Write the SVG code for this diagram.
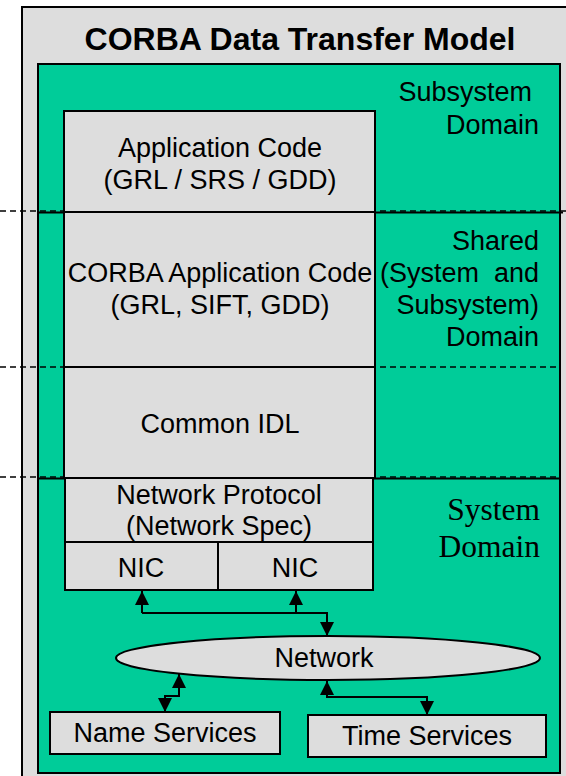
<svg xmlns="http://www.w3.org/2000/svg" width="566" height="776" viewBox="0 0 566 776">
<style>
.box{fill:#DDDDDD;stroke:#000;stroke-width:2}
.t{font-family:"Liberation Sans",Arial,sans-serif;font-size:27px;fill:#000}
.c{text-anchor:middle}
.r{text-anchor:end}
.serif{font-family:"Liberation Serif","Times New Roman",serif;font-size:31.5px;fill:#000;text-anchor:end}
.dash{stroke:#000;stroke-width:1.6;stroke-dasharray:6,4;fill:none}
.solid{stroke:#000;stroke-width:2;fill:none}
.conn{stroke:#000;stroke-width:2;fill:none}
</style>
<defs>
<marker id="ah" viewBox="0 0 14 14" refX="14" refY="7" markerWidth="14" markerHeight="14" markerUnits="userSpaceOnUse" orient="auto-start-reverse">
<path d="M0,0 L14,7 L0,14 z" fill="#000"/>
</marker>
</defs>
<g id="frame">
<rect x="22" y="7" width="560" height="780" fill="#DDDDDD" stroke="#000" stroke-width="2"/>
<text x="300" y="50" class="c" style="font-family:'Liberation Sans',Arial,sans-serif;font-size:32px;font-weight:bold">CORBA Data Transfer Model</text>
</g>
<g id="green">
<rect x="38" y="64" width="522" height="709" fill="#00CC99" stroke="#000" stroke-width="2"/>
<line class="solid" x1="38" y1="212.5" x2="563" y2="212.5"/>
<line class="solid" x1="38" y1="478.5" x2="560" y2="478.5"/>
</g>
<g id="dividers">
<line class="dash" x1="0" y1="211" x2="566" y2="211"/>
<line class="dash" x1="0" y1="367" x2="560" y2="367"/>
<line class="dash" x1="0" y1="477" x2="560" y2="477"/>
</g>
<g id="app-code">
<rect class="box" x="64" y="111" width="311" height="101"/>
<text class="t c" x="220" y="157">Application Code</text>
<text class="t c" x="220" y="189">(GRL / SRS / GDD)</text>
</g>
<g id="corba-app-code">
<rect class="box" x="64" y="212" width="311" height="155"/>
<text class="t c" x="220" y="282">CORBA Application Code</text>
<text class="t c" x="220" y="314">(GRL, SIFT, GDD)</text>
</g>
<g id="common-idl">
<rect class="box" x="64" y="367" width="311" height="111"/>
<text class="t c" x="220" y="433">Common IDL</text>
</g>
<g id="net-protocol">
<rect class="box" x="65" y="478" width="308" height="64"/>
<text class="t c" x="219" y="504">Network Protocol</text>
<text class="t c" x="219" y="535">(Network Spec)</text>
</g>
<g id="nic1">
<rect class="box" x="65" y="542" width="153" height="48"/>
<text class="t c" x="141" y="577">NIC</text>
</g>
<g id="nic2">
<rect class="box" x="218" y="542" width="155" height="48"/>
<text class="t c" x="295" y="577">NIC</text>
</g>
<g id="label-subsystem">
<text class="t r" x="532" y="101">Subsystem</text>
<text class="t r" x="539" y="134">Domain</text>
</g>
<g id="label-shared">
<text class="t r" x="539" y="250">Shared</text>
<text class="t r" x="539" y="282" xml:space="preserve">(System  and</text>
<text class="t r" x="539" y="314">Subsystem)</text>
<text class="t r" x="539" y="346">Domain</text>
</g>
<g id="label-system">
<text class="serif" x="540" y="520">System</text>
<text class="serif" x="540" y="557">Domain</text>
</g>
<g id="network">
<ellipse cx="328" cy="658" rx="212" ry="22" fill="#DDDDDD" stroke="#000" stroke-width="2"/>
<text class="t c" x="324" y="667">Network</text>
</g>
<g id="name-services">
<rect class="box" x="50" y="712" width="230" height="42"/>
<text class="t c" x="165" y="742">Name Services</text>
</g>
<g id="time-services">
<rect class="box" x="308" y="715" width="238" height="42"/>
<text class="t c" x="427" y="745">Time Services</text>
</g>
<g id="connectors">
<path class="conn" d="M142,613 V591" marker-end="url(#ah)"/>
<path class="conn" d="M296,613 V591" marker-end="url(#ah)"/>
<path class="conn" d="M142,613 H327 V636" marker-end="url(#ah)"/>
<path class="conn" d="M165,712 V696 H179 V674" marker-start="url(#ah)" marker-end="url(#ah)"/>
<path class="conn" d="M327,681 V697 H427 V715" marker-start="url(#ah)" marker-end="url(#ah)"/>
</g>
</svg>
